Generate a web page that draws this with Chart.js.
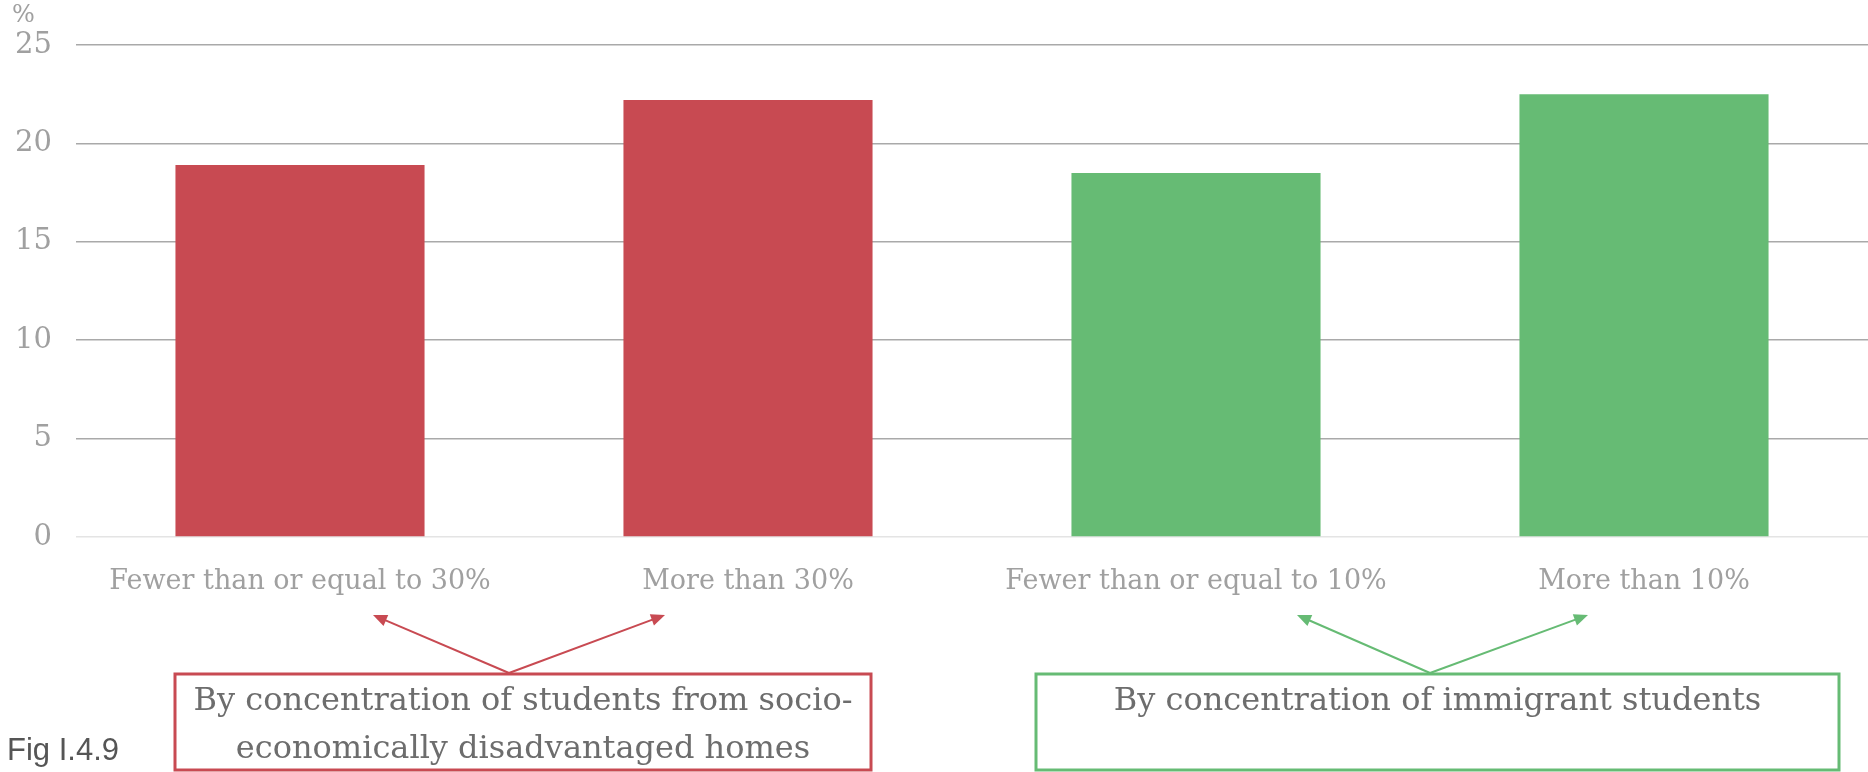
<!DOCTYPE html>
<html>
<head>
<meta charset="utf-8">
<script src="https://cdn.jsdelivr.net/npm/chart.js@4.4.1/dist/chart.umd.min.js"></script>
<style>
  html, body { margin: 0; padding: 0; background: #fff; }
  #wrap { width: 1868px; height: 772px; position: relative; }
</style>
</head>
<body>
<div id="wrap"><canvas id="myChart"></canvas></div>
<script>
const categories = ['Fewer than or equal to 30%', 'More than 30%', 'Fewer than or equal to 10%', 'More than 10%'];
const shares = [18.9, 22.2, 18.5, 22.5];
const barColors = ['#c84a52', '#c84a52', '#66bb74', '#66bb74'];
const yTicks = [0, 5, 10, 15, 20, 25];

const RED = '#c84a52', GREEN = '#66bb74';
const serif = '"DejaVu Serif", Georgia, serif';

// group boxes with arrows pointing up to the category labels
const groups = [
  { color: RED, box: [175, 674, 871, 770], base: [509, 673], tips: [[373, 615], [665, 615]],
    lines: ['By concentration of students from socio-', 'economically disadvantaged homes'] },
  { color: GREEN, box: [1036, 674, 1839, 770], base: [1430, 673], tips: [[1297, 615], [1588, 615]],
    lines: ['By concentration of immigrant students'] }
];

function arrow(ctx, x0, y0, x1, y1, color) {
  const a = Math.atan2(y1 - y0, x1 - x0);
  const len = 14, w = 6;
  ctx.strokeStyle = color;
  ctx.fillStyle = color;
  ctx.lineWidth = 2;
  ctx.beginPath();
  ctx.moveTo(x0, y0);
  ctx.lineTo(x1 - Math.cos(a) * len * 0.8, y1 - Math.sin(a) * len * 0.8);
  ctx.stroke();
  ctx.beginPath();
  ctx.moveTo(x1, y1);
  ctx.lineTo(x1 - Math.cos(a) * len + Math.sin(a) * w, y1 - Math.sin(a) * len - Math.cos(a) * w);
  ctx.lineTo(x1 - Math.cos(a) * len - Math.sin(a) * w, y1 - Math.sin(a) * len + Math.cos(a) * w);
  ctx.closePath();
  ctx.fill();
}

const extras = {
  id: 'extras',
  afterDraw(chart) {
    const ctx = chart.ctx;
    ctx.save();
    // unit label over the y axis
    ctx.fillStyle = '#a0a0a0';
    ctx.font = '24px ' + serif;
    ctx.textAlign = 'left';
    ctx.textBaseline = 'middle';
    ctx.fillText('%', 12, 16);

    groups.forEach(g => {
      g.tips.forEach(t => arrow(ctx, g.base[0], g.base[1], t[0], t[1], g.color));
      const [x0, y0, x1, y1] = g.box;
      ctx.strokeStyle = g.color;
      ctx.lineWidth = 3;
      ctx.strokeRect(x0, y0, x1 - x0, y1 - y0);
      ctx.fillStyle = '#6d6d6d';
      ctx.font = '32px ' + serif;
      ctx.textAlign = 'center';
      ctx.textBaseline = 'middle';
      g.lines.forEach((s, i) => ctx.fillText(s, (x0 + x1) / 2, 702 + i * 48));
    });

    ctx.fillStyle = '#555555';
    ctx.font = '31px "Liberation Sans", Arial, sans-serif';
    ctx.textAlign = 'left';
    ctx.fillText('Fig I.4.9', 7, 751);
    ctx.restore();
  }
};

const ctx = document.getElementById('myChart').getContext('2d');
const myChart = new Chart(ctx, {
  type: 'bar',
  data: {
    labels: categories,
    datasets: [{
      data: shares,
      backgroundColor: barColors,
      borderWidth: 0,
      categoryPercentage: 1,
      barPercentage: 0.556
    }]
  },
  options: {
    responsive: true,
    maintainAspectRatio: false,
    animation: false,
    layout: { padding: { top: 45, right: 0, left: 0, bottom: 0 } },
    scales: {
      x: {
        grid: { display: false },
        border: { display: false },
        ticks: {
          color: '#a0a0a0',
          padding: 21,
          maxRotation: 0,
          font: { size: 27, family: serif }
        },
        afterFit(scale) { scale.height = 235; }
      },
      y: {
        min: 0,
        max: 25,
        afterBuildTicks(scale) { scale.ticks = yTicks.map(v => ({ value: v })); },
        grid: {
          drawTicks: false,
          lineWidth: 1.5,
          color: c => c.tick && c.tick.value === 0 ? '#e4e4e4' : '#a9a9a9'
        },
        border: { display: false },
        ticks: {
          color: '#a0a0a0',
          padding: 24,
          font: { size: 29, family: serif }
        },
        afterFit(scale) { scale.width = 76; }
      }
    },
    plugins: {
      legend: { display: false },
      tooltip: { enabled: false }
    }
  },
  plugins: [extras]
});
</script>
</body>
</html>
